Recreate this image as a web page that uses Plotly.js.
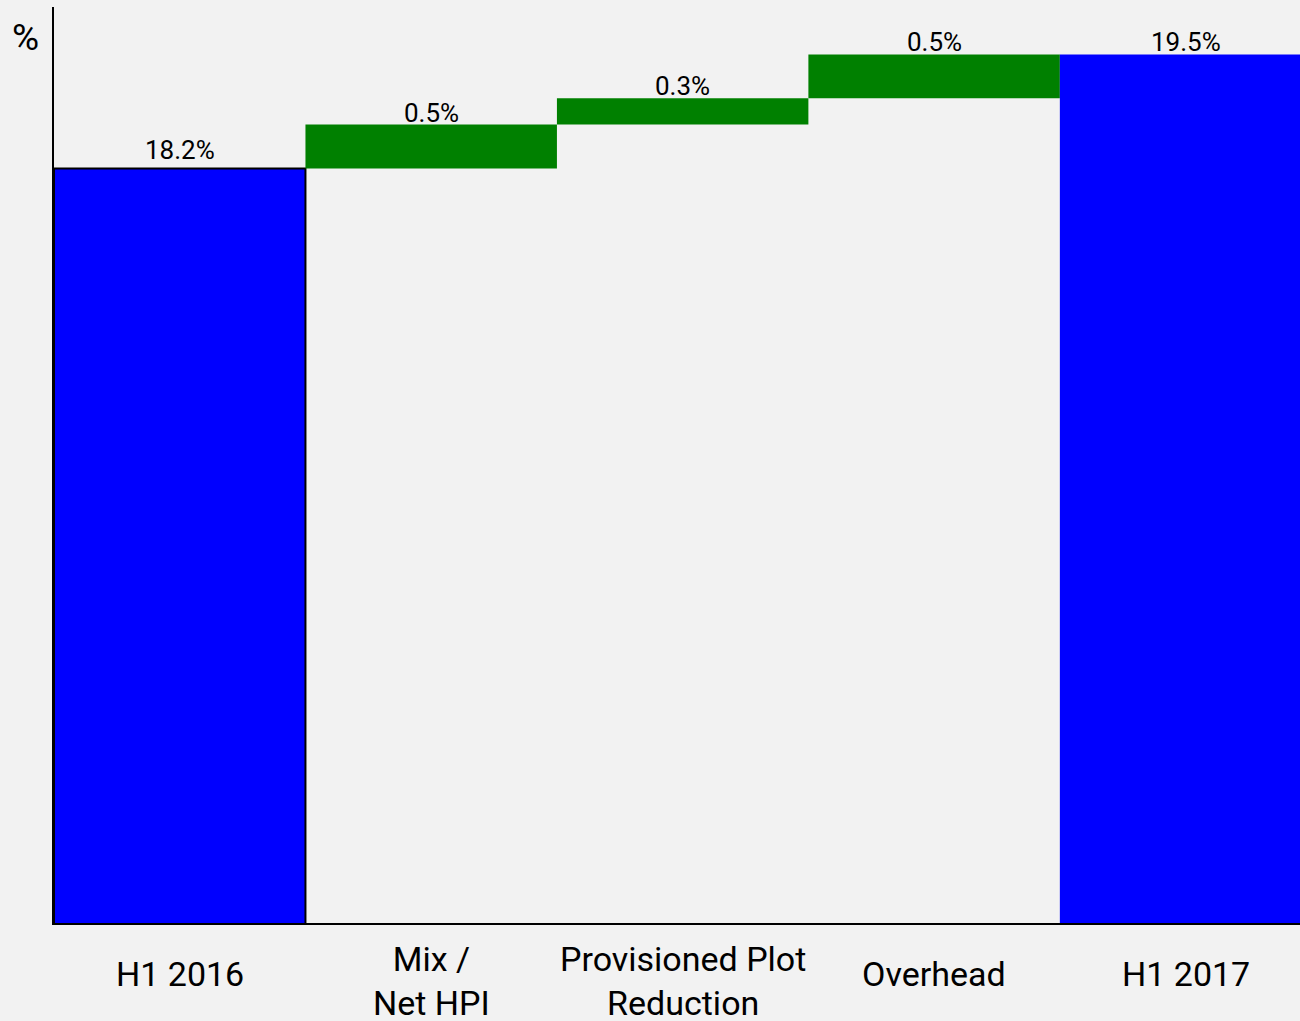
<!DOCTYPE html>
<html>
<head>
<meta charset="utf-8">
<script src="https://cdn.plot.ly/plotly-3.0.1.min.js"></script>
<style>html,body{margin:0;padding:0;background:#f2f2f2;}#chart{width:1300px;height:1021px;}</style>
</head>
<body>
<div id="chart"></div>
<script>
// Data
const categories = ["H1 2016", "Mix /<br>Net HPI", "Provisioned Plot<br>Reduction", "Overhead", "H1 2017"];
const startValue = 18.2;
const changes = [0.5, 0.3, 0.5];
const endValue = 19.5;
const labels = ["18.2%", "0.5%", "0.3%", "0.5%", "19.5%"];

// Build bar bases/heights from the data
const ys = [], bases = [], kinds = [];
ys.push(startValue); bases.push(0); kinds.push("total");
let run = startValue;
changes.forEach(c => { ys.push(c); bases.push(run); kinds.push("change"); run += c; });
ys.push(endValue); bases.push(0); kinds.push("total");
const tops = ys.map((v, i) => v + bases[i]);

const colors = kinds.map(k => k === "total" ? "#0000ff" : "#008000");
const lineW = kinds.map((k, i) => i === 0 ? 2 : 0);

const FONT = "Roboto, 'Liberation Sans', sans-serif";

const trace = {
  type: "bar",
  x: categories,
  y: ys,
  base: bases,
  marker: {color: colors, line: {color: "#000", width: lineW}},
  hoverinfo: "skip",
  cliponaxis: true
};

const annotations = [];
categories.forEach((c, i) => {
  const multi = c.indexOf("<br>") >= 0;
  annotations.push({
    x: c, y: tops[i], xref: "x", yref: "y",
    text: labels[i], showarrow: false,
    yanchor: "bottom", yshift: i === 0 ? 1 : -5,
    font: {family: FONT, size: 26, color: "#000"}
  });
  annotations.push({
    x: c, y: 0, xref: "x", yref: "paper",
    text: c, showarrow: false,
    yanchor: "middle", yshift: multi ? -58 : -51,
    font: {family: FONT, size: 34, color: "#000"}
  });
});
annotations.push({
  x: 0, y: 1, xref: "paper", yref: "paper",
  xanchor: "center", yanchor: "middle",
  xshift: -29, yshift: -30,
  text: "%", showarrow: false,
  font: {family: FONT, size: 37, color: "#000"}
});

const layout = {
  width: 1300, height: 1021,
  paper_bgcolor: "#f2f2f2", plot_bgcolor: "#f2f2f2",
  margin: {l: 54, r: 0, t: 7, b: 98, pad: 0},
  bargap: 0,
  showlegend: false,
  xaxis: {
    type: "category", range: [-0.5, 4.455],
    showticklabels: false, ticks: "", showgrid: false, zeroline: false,
    showline: true, linecolor: "#000", linewidth: 2, fixedrange: true
  },
  yaxis: {
    range: [9.6, 20.04],
    showticklabels: false, ticks: "", showgrid: false, zeroline: false,
    showline: true, linecolor: "#000", linewidth: 2, fixedrange: true
  },
  annotations: annotations,
  font: {family: FONT, color: "#000"}
};

Plotly.newPlot("chart", [trace], layout, {displayModeBar: false, staticPlot: true});
</script>
</body>
</html>
